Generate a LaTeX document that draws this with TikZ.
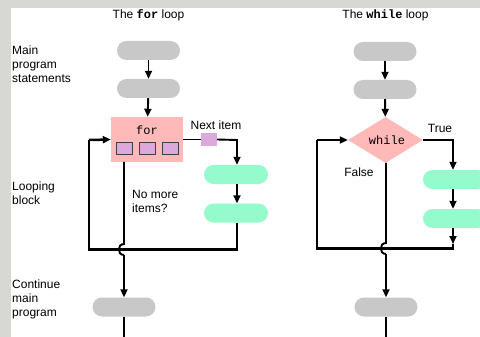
\documentclass[tikz,border=0pt]{standalone}
\usepackage{fontspec}
\setmainfont{Liberation Sans}
\setsansfont{Liberation Sans}
\setmonofont{Liberation Mono}
\usetikzlibrary{arrows.meta,shapes.geometric}
\definecolor{bggray}{HTML}{D7D7D3}
\definecolor{pillgray}{HTML}{C8C8C8}
\definecolor{pinkbox}{HTML}{FFB9B9}
\definecolor{purp}{HTML}{DBA9DB}
\definecolor{mint}{HTML}{95FBCD}
\tikzset{
  pill/.style={rounded corners=9.5pt, minimum width=63pt, minimum height=19pt, inner sep=0pt, draw=none},
  graypill/.style={pill, fill=pillgray},
  greenpill/.style={pill, fill=mint},
  sq/.style={fill=purp, draw=black!75, line width=0.9pt, minimum width=16pt, minimum height=12.5pt, inner sep=0pt},
  tag/.style={fill=purp, minimum width=16pt, minimum height=13pt, inner sep=0pt},
  lbl/.style={font=\fontsize{12}{14}\selectfont, align=left, inner sep=0pt},
  tip/.style={-{Triangle[length=8pt,width=7pt]}},
  arr/.style={line width=1.9pt, tip},
  ln/.style={line width=1.9pt},
  lp/.style={line width=2.5pt},
}
\begin{document}
\begin{tikzpicture}[x=1pt,y=-1pt]
\useasboundingbox (0,0) rectangle (480,337);
\clip (0,0) rectangle (480,337);
\fill[bggray] (0,0) rectangle (480,337);
\fill[white] (11,8) rectangle (480,337);

% titles
\node[lbl] (t1) at (148.5,15) {The \texttt{\bfseries for} loop};
\node[lbl] (t2) at (385.5,15) {The \texttt{\bfseries while} loop};

% side labels
\node[lbl, anchor=west] (s1) at (12,64) {Main\\program\\statements};
\node[lbl, anchor=west] (s2) at (12,193) {Looping\\block};
\node[lbl, anchor=west] (s3) at (12,299) {Continue\\main\\program};

% ===== for loop =====
\node[graypill] (f1) at (148.5,50.5) {};
\node[graypill] (f2) at (148.5,88.5) {};
\node[fill=pinkbox, minimum width=72pt, minimum height=45pt, inner sep=0pt] (fb) at (147,139.5) {};
\node[font=\fontsize{12}{14}\selectfont\ttfamily, inner sep=0pt] (ft) at (147,130) {for};
\node[sq] (q1) at (124.5,148.5) {};
\node[sq] (q2) at (147.5,148.5) {};
\node[sq] (q3) at (170.5,148.5) {};
\node[tag] (tg) at (209,139.5) {};
\node[lbl] (ni) at (216,125) {Next item};
\node[greenpill, minimum width=64pt] (g1) at (236,174.5) {};
\node[greenpill, minimum width=64pt] (g2) at (236,213) {};
\node[lbl, anchor=west] (nm) at (132,201.5) {No more\\items?};
\node[graypill] (f3) at (124,307) {};
\coordinate (fc1) at (237,140);
\coordinate (fc2) at (237,249.5);
\coordinate (fc3) at (89,249.5);
\coordinate (fc4) at (89,140);
\coordinate (fj1) at (124,244);
\coordinate (fj2) at (124,255);
\coordinate (fo) at (124,162);
\coordinate (fe) at (124,345);

\draw[arr] (f1) -- (f2);
\draw[arr] (f2) -- (fb);
\draw[ln] (fb.east) -- (tg.west);
\draw[arr] (tg.east) -- (fc1) -- (fc1 |- g1.north);
\draw[arr] (g1.south -| fc1) -- (g2.north -| fc1);
\draw[lp] (g2.south -| fc1) -- (fc2) -- (fc3) -- (fc4);
\draw[lp, tip] (fc4) -- (fb.west);
\draw[ln] (fo) -- (fj1) .. controls (117,244) and (117,255) .. (fj2);
\draw[arr] (fj2) -- (f3);
\draw[arr] (f3) -- (fe);

% ===== while loop =====
\node[graypill] (w1) at (385,51.5) {};
\node[graypill] (w2) at (385,89.5) {};
\node[diamond, fill=pinkbox, minimum width=75pt, minimum height=46pt, inner sep=0pt, aspect=1.63] (wd) at (385.5,140) {};
\node[font=\fontsize{12}{14}\selectfont\ttfamily, inner sep=0pt] (wt) at (387,140) {while};
\node[lbl] (tr) at (440,128) {True};
\node[lbl] (fa) at (359,172.5) {False};
\node[greenpill, minimum width=64pt] (wg1) at (455,179.5) {};
\node[greenpill, minimum width=64pt] (wg2) at (455,218.5) {};
\node[graypill] (w3) at (386,307) {};
\coordinate (wc1) at (453,140);
\coordinate (wc2) at (453,248.5);
\coordinate (wc3) at (317,248.5);
\coordinate (wc4) at (317,140);
\coordinate (wa) at (453,244);
\coordinate (wj1) at (386,243);
\coordinate (wj2) at (386,254);
\coordinate (wo) at (386,163);
\coordinate (we) at (386,345);

\draw[arr] (w1) -- (w2);
\draw[arr] (w2) -- (wd);
\draw[arr] (wd.east) -- (wc1) -- (wc1 |- wg1.north);
\draw[arr] (wg1.south -| wc1) -- (wg2.north -| wc1);
\draw[arr] (wg2.south -| wc1) -- (wa);
\draw[lp] (wa) -- (wc2) -- (wc3) -- (wc4);
\draw[lp, tip] (wc4) -- (wd.west);
\draw[ln] (wo) -- (wj1) .. controls (379,243) and (379,254) .. (wj2);
\draw[arr] (wj2) -- (w3);
\draw[arr] (w3) -- (we);
\end{tikzpicture}
\end{document}
